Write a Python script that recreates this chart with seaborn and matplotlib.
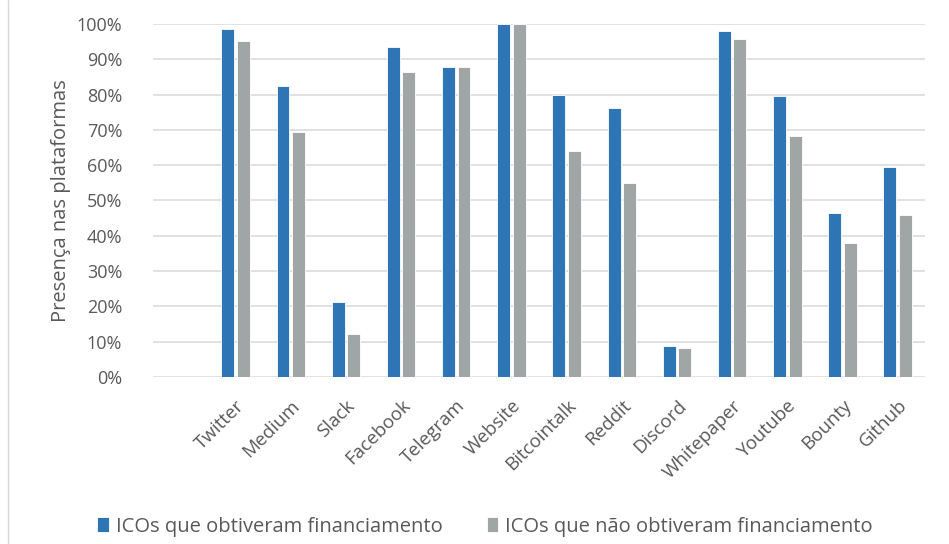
import pandas as pd
import matplotlib.pyplot as plt
from matplotlib.lines import Line2D
from matplotlib.ticker import PercentFormatter
import seaborn as sns

# dados (% de presença)
plataformas = ['Twitter', 'Medium', 'Slack', 'Facebook', 'Telegram', 'Website', 'Bitcointalk',
               'Reddit', 'Discord', 'Whitepaper', 'Youtube', 'Bounty', 'Github']
com_financiamento = [98.6, 82.3, 21.3, 93.5, 87.9, 100.0, 80.0, 76.2, 8.9, 97.9, 79.5, 46.5, 59.4]
sem_financiamento = [95.2, 69.5, 12.3, 86.3, 87.9, 100.0, 63.9, 54.9, 8.3, 95.7, 68.3, 38.0, 45.9]
series = ['ICOs que obtiveram financiamento', 'ICOs que não obtiveram financiamento']

df = pd.DataFrame({
    'plataforma': plataformas * 2,
    'valor': com_financiamento + sem_financiamento,
    'grupo': [series[0]] * len(plataformas) + [series[1]] * len(plataformas),
})

sns.set_theme(style='white')
plt.rcParams['font.family'] = ['Open Sans', 'DejaVu Sans']

cor_texto = '#595959'
fig, ax = plt.subplots(figsize=(9.49, 5.44), dpi=100)
plt.subplots_adjust(left=0.161, right=0.975, top=0.956, bottom=0.307)

sns.barplot(data=df, x='plataforma', y='valor', hue='grupo', order=plataformas, hue_order=series,
            palette=['#2E75B6', '#A0A5A6'], saturation=1, width=0.56, gap=0.16, ax=ax,
            edgecolor='white', linewidth=0.6, zorder=3)

ax.set_xlim(-1.5, len(plataformas) - 0.5)  # espaço vazio à esquerda como no original
ax.set_ylim(0, 100)
ax.set_yticks(range(0, 101, 10))
ax.yaxis.set_major_formatter(PercentFormatter(decimals=0))
ax.grid(axis='y', color='#D9D9D9', linewidth=1.1, zorder=0)
for s in ax.spines.values():
    s.set_visible(False)

ax.tick_params(axis='y', length=0, pad=22, labelsize=13, labelcolor=cor_texto)
ax.tick_params(axis='x', length=0, pad=14, labelsize=13.5, labelcolor=cor_texto)
ax.set_xticks(range(len(plataformas)))
ax.set_xticklabels(plataformas, rotation=45, ha='right', rotation_mode='anchor')
ax.set_xlabel('')
ax.set_ylabel('Presença nas plataformas', fontsize=14.5, color=cor_texto, labelpad=4)

ax.legend(loc='center', bbox_to_anchor=(0.511, 0.032), bbox_transform=fig.transFigure,
          ncol=2, frameon=False, fontsize=14.5, handlelength=0.55, handleheight=0.75,
          handletextpad=0.35, columnspacing=2.2, labelcolor=cor_texto)

# borda esquerda da área do gráfico
fig.add_artist(Line2D([0.008, 0.008], [0, 1], transform=fig.transFigure, color='#D9D9D9', linewidth=1))

plt.savefig('out.png', dpi=100)
